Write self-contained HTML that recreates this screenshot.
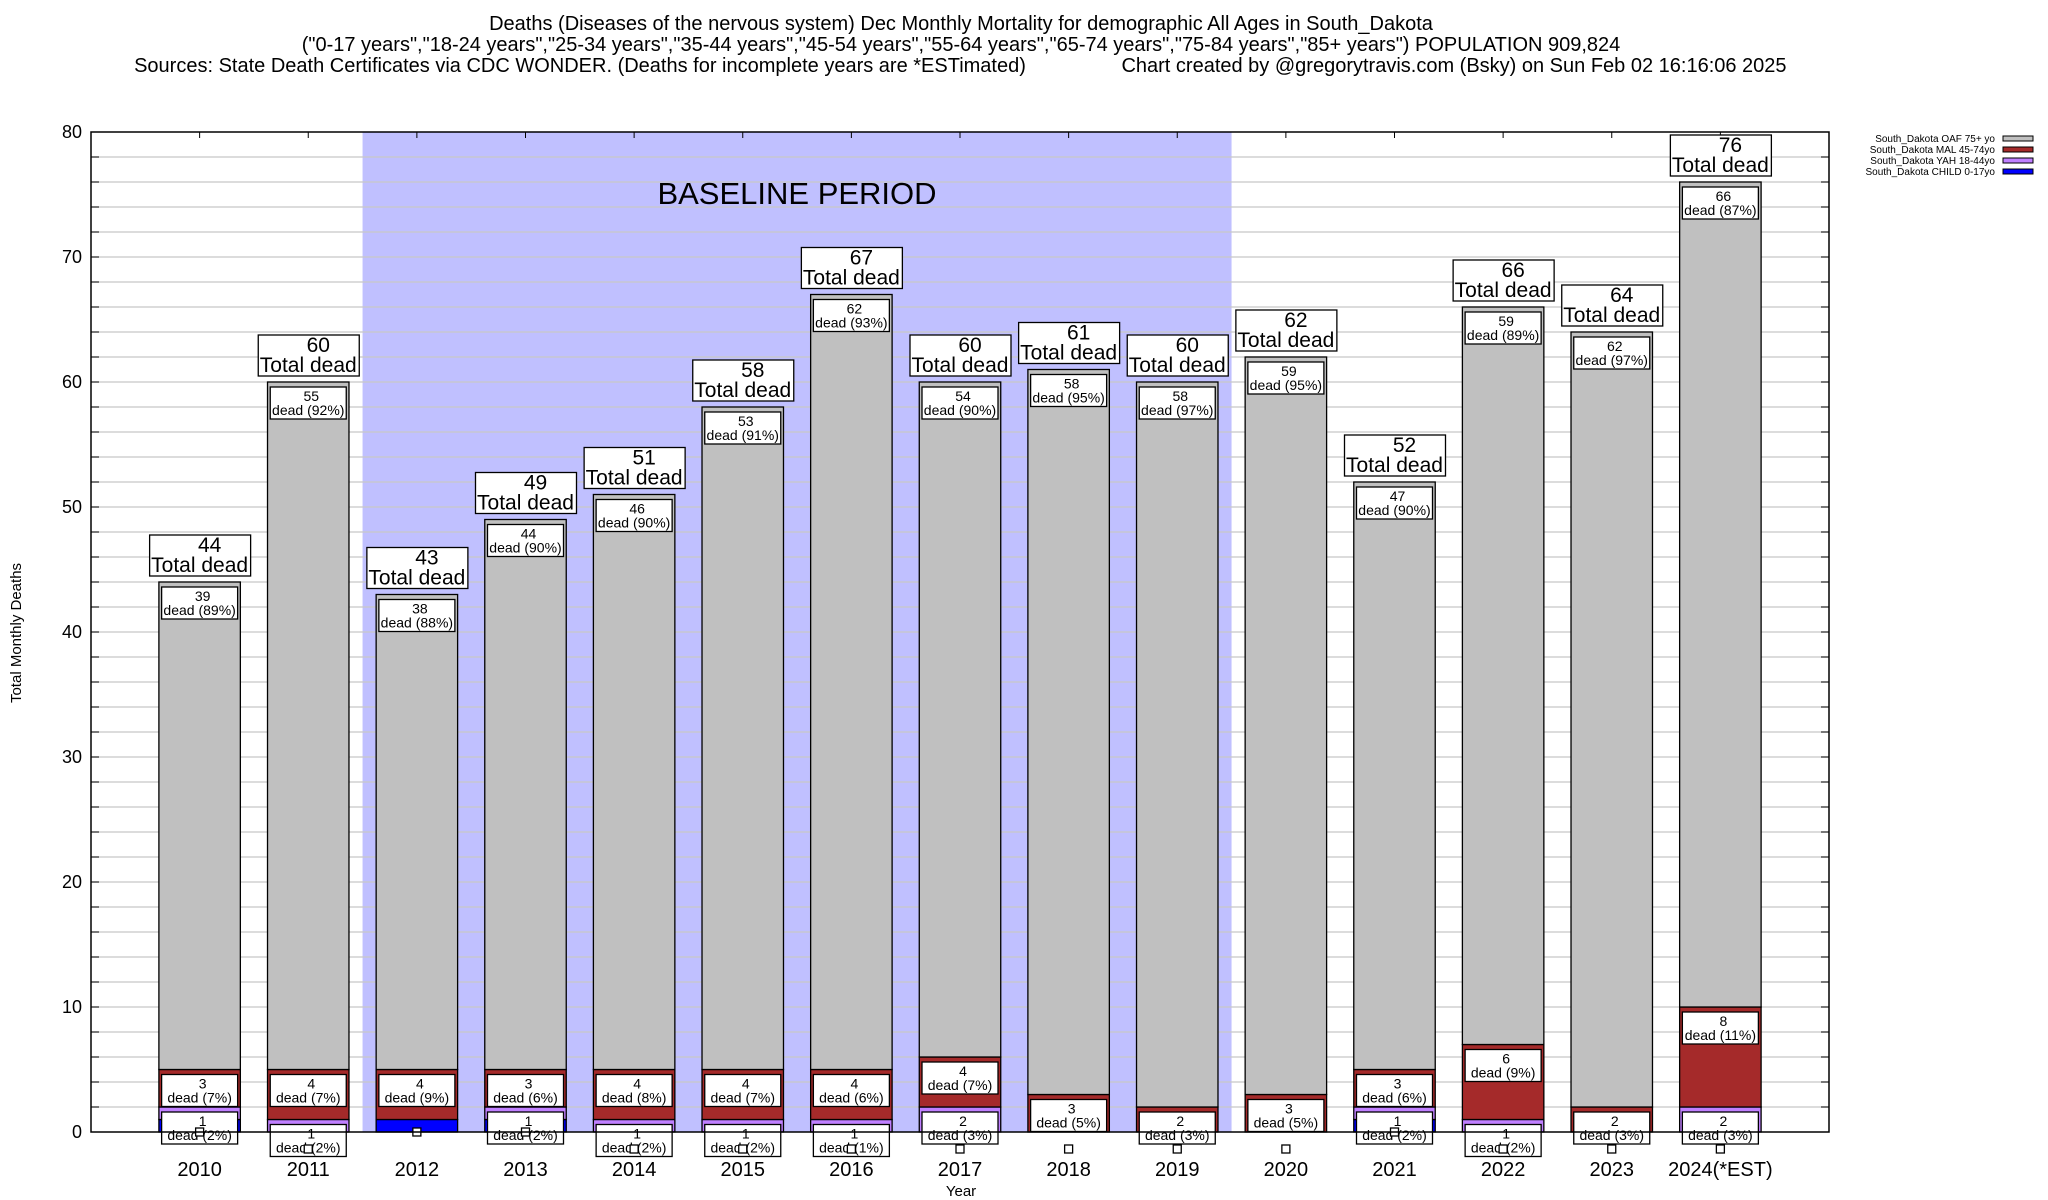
<!DOCTYPE html>
<html><head><meta charset="utf-8">
<style>
html,body{margin:0;padding:0;background:#fff;}
svg{display:block;font-family:"Liberation Sans",Arial,sans-serif;}
</style></head>
<body>
<svg id="chart" width="2048" height="1200" viewBox="0 0 2048 1200" xmlns="http://www.w3.org/2000/svg">
<g font-size="20" text-anchor="middle" fill="#000">
<text x="961" y="30">Deaths (Diseases of the nervous system) Dec Monthly Mortality for demographic All Ages in South_Dakota</text>
<text x="961" y="51">("0-17 years","18-24 years","25-34 years","35-44 years","45-54 years","55-64 years","65-74 years","75-84 years","85+ years") POPULATION 909,824</text>
<text x="580" y="72">Sources: State Death Certificates via CDC WONDER. (Deaths for incomplete years are *ESTimated)</text>
<text x="1454" y="72">Chart created by @gregorytravis.com (Bsky) on Sun Feb 02 16:16:06 2025</text>
</g>
<g id="plot"></g>
<g font-size="10" text-anchor="end">
<text x="1995" y="142">South_Dakota OAF 75+ yo</text>
<rect x="2003" y="136" width="30" height="5" fill="#c0c0c0" stroke="#000"/>
<text x="1995" y="153">South_Dakota MAL 45-74yo</text>
<rect x="2003" y="147" width="30" height="5" fill="#a52a2a" stroke="#000"/>
<text x="1995" y="164">South_Dakota YAH 18-44yo</text>
<rect x="2003" y="158" width="30" height="5" fill="#c080ff" stroke="#000"/>
<text x="1995" y="175">South_Dakota CHILD 0-17yo</text>
<rect x="2003" y="169" width="30" height="5" fill="#0000ff" stroke="#000"/>
</g>
</svg>
<script>
const categories = ["2010","2011","2012","2013","2014","2015","2016","2017","2018","2019","2020","2021","2022","2023","2024(*EST)"];
const child = [1,0,1,1,0,0,0,0,0,0,0,1,0,0,0];
const yah   = [1,1,0,1,1,1,1,2,0,0,0,1,1,0,2];
const mal   = [3,4,4,3,4,4,4,4,3,2,3,3,6,2,8];
const oaf   = [39,55,38,44,46,53,62,54,58,58,59,47,59,62,66];
const yTicks = [0,10,20,30,40,50,60,70,80];
const baselineStart = 2.5, baselineEnd = 10.5;

const NS = "http://www.w3.org/2000/svg";
const L = 91, R = 1829, T = 132, B = 1132;
const yMax = 80, xMax = categories.length + 1;
function xs(i){ return L + (R - L) * i / xMax; }
function ys(v){ return B - (B - T) * v / yMax; }
const slot = (R - L) / xMax, bw = slot * 0.75;
const plot = document.getElementById('plot');
function mk(tag, attrs, parent){
  const e = document.createElementNS(NS, tag);
  for (const k in attrs) e.setAttribute(k, attrs[k]);
  (parent || plot).appendChild(e);
  return e;
}

let el = mk('rect', {x: xs(baselineStart), y: T, width: xs(baselineEnd) - xs(baselineStart), height: B - T, fill: '#c0c0ff'});



for (let v = 2; v < yMax; v += 2) {
  el = mk('line', {x1: L, x2: R, y1: ys(v), y2: ys(v), stroke: '#c8c8c8', 'stroke-width': 1.3});
  
  
  el = mk('line', {x1: L, x2: L + 8, y1: ys(v), y2: ys(v), stroke: '#000'});
  
  
  el = mk('line', {x1: R - 8, x2: R, y1: ys(v), y2: ys(v), stroke: '#000'});
  
  
}
el = mk('text', {x: 797, y: 204, 'font-size': 31, 'text-anchor': 'middle'});
el.textContent = 'BASELINE PERIOD';



yTicks.forEach(v => {
  const t = mk('text', {x: 82, y: ys(v) + 6, 'font-size': 18, 'text-anchor': 'end'});
  t.textContent = v;
  
  
});
el = mk('text', {x: 0, y: 0, 'font-size': 15, 'text-anchor': 'middle', transform: 'translate(21,633) rotate(-90)'});
el.textContent = 'Total Monthly Deaths';


el = mk('text', {x: 961, y: 1196, 'font-size': 15, 'text-anchor': 'middle'});
el.textContent = 'Year';



function labelBox(cx, top, num, pct, name){
  const g = mk('g', {});
  
  
  mk('rect', {x: cx - 38, y: top, width: 76, height: 32, fill: '#fff', stroke: '#000', 'stroke-width': 1.3}, g);
  const a = mk('text', {x: cx + 3, y: top + 14, 'font-size': 14, 'text-anchor': 'middle'}, g);
  a.textContent = num;
  const b = mk('text', {x: cx, y: top + 28, 'font-size': 14, 'text-anchor': 'middle'}, g);
  b.textContent = 'dead (' + pct + '%)';
}

const segs = [
  {arr: child, color: '#0000ff', name: 'child'},
  {arr: yah, color: '#c080ff', name: 'yah'},
  {arr: mal, color: '#a52a2a', name: 'mal'},
  {arr: oaf, color: '#c0c0c0', name: 'oaf'}
];
categories.forEach((c, i) => {
  const cx = xs(i + 1);
  const total = child[i] + yah[i] + mal[i] + oaf[i];
  el = mk('line', {x1: cx, x2: cx, y1: T, y2: T + 6, stroke: '#000'});
  
  
  let base = 0;
  const labels = [];
  segs.forEach(s => {
    const v = s.arr[i];
    if (v > 0) {
      const r = mk('rect', {x: cx - bw/2, y: ys(base + v), width: bw, height: ys(base) - ys(base + v), fill: s.color, stroke: '#000', 'stroke-width': 1.3});
      
      
      if (s.name !== 'child') labels.push([ys(base + v) + 5, v, Math.round(v / total * 100), s.name]);
    }
    base += v;
  });
  labels.forEach(l => labelBox(cx, l[0], l[1], l[2], 'label-' + l[3] + '-' + c));
  const my = child[i] > 0 ? B : B + 17;
  el = mk('rect', {x: cx - 4, y: my - 4, width: 8, height: 8, fill: '#fff', stroke: '#000', 'stroke-width': 1.3});
  
  
  const g = mk('g', {});
  
  
  const tb = ys(total) - 6;
  mk('rect', {x: cx - 50, y: tb - 41, width: 101, height: 41, fill: '#fff', stroke: '#000', 'stroke-width': 1.3}, g);
  const t1 = mk('text', {x: cx + 10, y: tb - 24, 'font-size': 21, 'text-anchor': 'middle'}, g);
  t1.textContent = total;
  const t2 = mk('text', {x: cx, y: tb - 4, 'font-size': 21, 'text-anchor': 'middle'}, g);
  t2.textContent = 'Total dead';
  const xl = mk('text', {x: cx, y: 1176, 'font-size': 20, 'text-anchor': 'middle'});
  xl.textContent = c;
  
  
});

el = mk('rect', {x: L, y: T, width: R - L, height: B - T, fill: 'none', stroke: '#000', 'stroke-width': 1.5});


</script>
</body></html>
